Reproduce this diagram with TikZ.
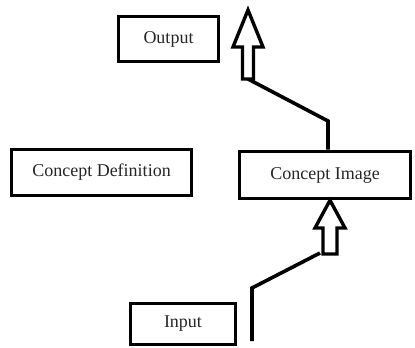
\documentclass[tikz,border=0pt]{standalone}
\usepackage{fontspec}
\setmainfont{Liberation Serif}
\begin{document}
\begin{tikzpicture}[x=1pt,y=-1pt,
  box/.style={draw=black, line width=3.6pt, fill=white, inner sep=0pt, font=\fontsize{18}{20}\selectfont, text=black!85},
  conn/.style={draw=black, line width=3.6pt, line join=miter},
  hollow/.style={draw=black, line width=3.4pt, fill=white, line join=miter}]
\useasboundingbox (0,0) rectangle (415,348);
\fill[white] (0,0) rectangle (415,348);
\node[box, minimum width=100pt, minimum height=45pt] (out) at (168.5,39) {Output};
\node[box, minimum width=180pt, minimum height=46pt] (def) at (101.5,172.5) {Concept Definition};
\node[box, minimum width=171pt, minimum height=47pt] (img) at (325,175) {Concept Image};
\node[box, minimum width=105pt, minimum height=41pt] (inp) at (183,324) {Input};
% top connector from Concept Image up to the output arrow
\coordinate (a1) at (328,121);
\coordinate (a2) at (248,79);
\draw[conn] (img.north -| a1) -- (a1) -- (a2);
\draw[hollow] (248,10) -- (263,47) -- (253.5,47) -- (253.5,79) -- (242.5,79) -- (242.5,47) -- (233,47) -- cycle;
% bottom connector from below into Concept Image
\coordinate (b0) at (252,341);
\coordinate (b1) at (252,288);
\coordinate (b2) at (320,253);
\draw[conn] (b0) -- (b1) -- (b2);
\draw[hollow] (img.south -| 330,0) -- (345,228) -- (337,228) -- (337,254) -- (323,254) -- (323,228) -- (315,228) -- cycle;
\end{tikzpicture}
\end{document}
